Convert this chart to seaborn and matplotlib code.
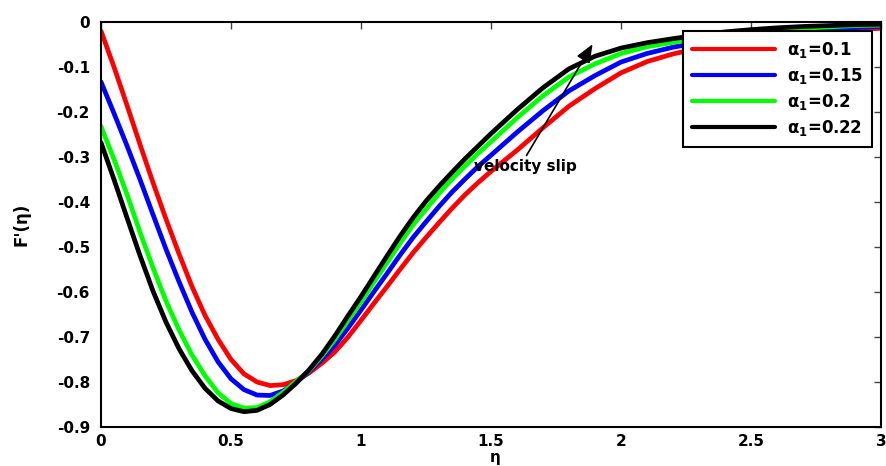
import pandas as pd
import matplotlib
matplotlib.use('Agg')
import matplotlib.pyplot as plt
import seaborn as sns

# eta grid (finer near the minimum)
eta = [0.00, 0.05, 0.10, 0.15, 0.20, 0.25, 0.30, 0.35, 0.40, 0.45,
       0.50, 0.55, 0.60, 0.65, 0.70, 0.75, 0.80, 0.85, 0.90, 0.95,
       1.00, 1.05, 1.10, 1.15, 1.20, 1.25, 1.30, 1.35, 1.40, 1.45,
       1.50, 1.60, 1.70, 1.80, 1.90, 2.00, 2.10, 2.20, 2.30, 2.40,
       2.50, 2.60, 2.70, 2.80, 2.90, 3.00]

# F'(eta) for alpha_1 = 0.1
f_a010 = [-0.020, -0.100, -0.185, -0.272, -0.357, -0.438, -0.515, -0.588, -0.652, -0.705,
          -0.750, -0.782, -0.800, -0.808, -0.806, -0.797, -0.780, -0.758, -0.733, -0.700,
          -0.663, -0.625, -0.588, -0.550, -0.513, -0.479, -0.446, -0.414, -0.384, -0.357,
          -0.332, -0.285, -0.235, -0.187, -0.148, -0.113, -0.088, -0.071, -0.058, -0.047,
          -0.038, -0.031, -0.026, -0.021, -0.017, -0.014]

# alpha_1 = 0.15
f_a015 = [-0.133, -0.203, -0.275, -0.350, -0.428, -0.505, -0.577, -0.645, -0.705, -0.755,
          -0.793, -0.817, -0.829, -0.830, -0.820, -0.801, -0.777, -0.749, -0.718, -0.680,
          -0.640, -0.599, -0.559, -0.518, -0.479, -0.444, -0.410, -0.378, -0.349, -0.321,
          -0.296, -0.245, -0.197, -0.153, -0.119, -0.089, -0.070, -0.056, -0.046, -0.036,
          -0.029, -0.023, -0.019, -0.015, -0.012, -0.010]

# alpha_1 = 0.2
f_a020 = [-0.232, -0.305, -0.383, -0.467, -0.546, -0.620, -0.684, -0.740, -0.786, -0.824,
          -0.848, -0.858, -0.857, -0.844, -0.823, -0.799, -0.775, -0.742, -0.705, -0.663,
          -0.622, -0.578, -0.535, -0.492, -0.451, -0.416, -0.381, -0.349, -0.320, -0.292,
          -0.266, -0.213, -0.164, -0.122, -0.093, -0.070, -0.055, -0.045, -0.035, -0.028,
          -0.022, -0.017, -0.014, -0.011, -0.008, -0.007]

# alpha_1 = 0.22
f_a022 = [-0.268, -0.350, -0.435, -0.519, -0.598, -0.667, -0.726, -0.775, -0.814, -0.842,
          -0.859, -0.866, -0.863, -0.850, -0.829, -0.803, -0.773, -0.738, -0.697, -0.653,
          -0.610, -0.565, -0.520, -0.476, -0.435, -0.398, -0.365, -0.334, -0.304, -0.276,
          -0.248, -0.195, -0.146, -0.104, -0.076, -0.058, -0.046, -0.037, -0.029, -0.022,
          -0.017, -0.013, -0.010, -0.008, -0.006, -0.005]

labels = [r'α$_\mathbf{1}$=0.1', r'α$_\mathbf{1}$=0.15',
          r'α$_\mathbf{1}$=0.2', r'α$_\mathbf{1}$=0.22']
colors = ['#ff0000', '#0000ff', '#00ff00', '#000000']

x_ticks = [0, 0.5, 1, 1.5, 2, 2.5, 3]
y_ticks = [0, -0.1, -0.2, -0.3, -0.4, -0.5, -0.6, -0.7, -0.8, -0.9]

# long-form table for seaborn
frames = []
for lab, vals in zip(labels, [f_a010, f_a015, f_a020, f_a022]):
    frames.append(pd.DataFrame({'eta': eta, 'F': vals, 'case': lab}))
df = pd.concat(frames, ignore_index=True)

sns.set_style('white')
plt.rcParams['font.family'] = ['DejaVu Sans']
plt.rcParams['font.weight'] = 'bold'
plt.rcParams['axes.unicode_minus'] = False
plt.rcParams['mathtext.default'] = 'bf'
plt.rcParams['text.color'] = 'black'
plt.rcParams['axes.labelcolor'] = 'black'

fig = plt.figure(figsize=(8.86, 4.66), dpi=100)
ax = fig.add_axes([0.114, 0.0837, 0.8804, 0.8691])

sns.lineplot(data=df, x='eta', y='F', hue='case', palette=colors,
             hue_order=labels, linewidth=3.4, ax=ax, sort=False)

ax.set_xlim(0, 3)
ax.set_ylim(-0.9, 0)
ax.set_xticks(x_ticks)
ax.set_yticks(y_ticks)
ax.set_xticklabels(['%g' % t for t in x_ticks], fontsize=11, fontweight='bold')
ax.set_yticklabels(['%g' % t for t in y_ticks], fontsize=11, fontweight='bold')
ax.tick_params(direction='in', length=5, width=1, top=True, right=True,
               color='#444444', labelcolor='black')
ax.tick_params(axis='y', pad=8)
ax.tick_params(axis='x', pad=5)
for sp in ax.spines.values():
    sp.set_visible(True)
    sp.set_color('black')
    sp.set_linewidth(1.5)

ax.set_xlabel('η', fontsize=11, fontweight='bold')
ax.set_ylabel("F'(η)", fontsize=12, fontweight='bold')
ax.xaxis.set_label_coords(0.505, -0.058)
ax.yaxis.set_label_coords(-0.09, 0.5)

leg = ax.legend(loc='upper right', fontsize=12, frameon=True, fancybox=False,
                handlelength=5.0, handletextpad=0.7, labelspacing=0.36,
                borderaxespad=0.55, borderpad=0.55)
leg.get_frame().set_edgecolor('black')
leg.get_frame().set_linewidth(1.5)
leg.get_frame().set_alpha(1)
for line in leg.get_lines():
    line.set_linewidth(3)
for t in leg.get_texts():
    t.set_color('black')

ax.annotate('', xy=(1.896, -0.044), xytext=(1.631, -0.302),
            arrowprops=dict(arrowstyle='-|>,head_length=1.1,head_width=0.45',
                            color='black', lw=1.2))
ax.text(1.631, -0.322, 'velocity slip', ha='center', va='center',
        fontsize=11, fontweight='bold')

fig.savefig('out.png', dpi=100)
